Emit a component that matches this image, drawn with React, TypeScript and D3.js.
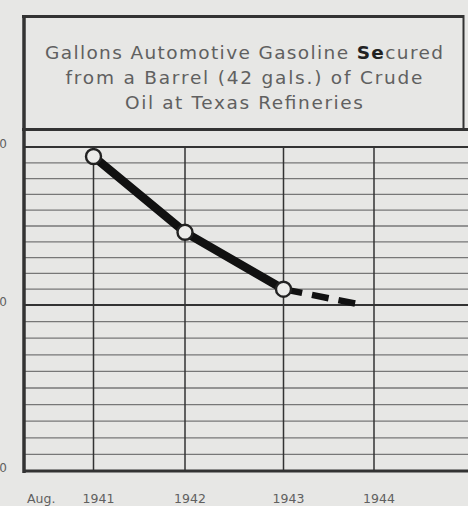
import React from "react";
import * as d3 from "d3";

const titleLines = [
  ["Gallons Automotive Gasoline ", "Se", "cured"],
  ["from a Barrel (42 gals.) of Crude"],
  ["Oil at Texas Refineries"],
];
const years = [1941, 1942, 1943];
const gallons = [19.4, 14.6, 11.0];
const projYears = [1943, 1943.83];
const projGallons = [11.0, 10.05];
const xTickYears = [1941, 1942, 1943, 1944];
const xTickLabels = ["1941", "1942", "1943", "1944"];
const yMajorTicks = [0, 10, 20];
const yMajorLabels = ["0", "10", "20"];
const yMinorTicks = d3.range(0, 21);

const W = 468;
const H = 506;

export default function App() {
  const x = d3.scaleLinear().domain([1941, 1942, 1943, 1944]).range([93.5, 185, 283.5, 374]);
  const y = d3.scaleLinear().domain([0, 10, 20]).range([471, 305, 147]);

  const solid = d3.line<number>().x((_, i) => x(years[i])).y((d) => y(d))(gallons) || "";
  const dashed = d3.line<number>().x((_, i) => x(projYears[i])).y((d) => y(d))(projGallons) || "";

  const ink = "#333";
  const grid = "#777";
  const textCol = "#606060";
  const titleWidths = [398, 357, 238];
  const titleY = [59, 84, 109];

  return (
    <svg width={W} height={H} style={{ position: "absolute", left: 0, top: 0, background: "#e7e7e5" }}>
      <rect x={0} y={0} width={W} height={H} fill="#e7e7e5" />
      {yMinorTicks.filter((t) => !yMajorTicks.includes(t)).map((t) => (
        <line key={"mn" + t} x1={25} x2={W} y1={y(t)} y2={y(t)} stroke={grid} strokeWidth={1.3} />
      ))}
      {yMajorTicks.map((t) => (
        <line key={"mj" + t} x1={25} x2={W} y1={y(t)} y2={y(t)} stroke={ink} strokeWidth={t === 0 ? 3 : 2} />
      ))}
      {xTickYears.map((t) => (
        <line key={"v" + t} x1={x(t)} x2={x(t)} y1={y(20)} y2={y(0)} stroke={ink} strokeWidth={1.5} />
      ))}
      <line x1={22} x2={463} y1={16.5} y2={16.5} stroke={ink} strokeWidth={3} />
      <line x1={22} x2={W} y1={129.5} y2={129.5} stroke={ink} strokeWidth={3} />
      <line x1={24} x2={24} y1={15} y2={473} stroke={ink} strokeWidth={3.5} />
      <line x1={463.5} x2={463.5} y1={15} y2={130} stroke={ink} strokeWidth={2} />
      {titleLines.map((parts, i) => (
        <text
          key={"t" + i}
          x={244}
          y={titleY[i]}
          textAnchor="middle"
          fontFamily="DejaVu Sans, sans-serif"
          fontSize={18.5}
          fill={textCol}
          textLength={titleWidths[i]}
          lengthAdjust="spacing"
        >
          {parts.map((p, j) => (
            <tspan key={j} fontWeight={p === "Se" ? "bold" : "normal"} fill={p === "Se" ? "#222" : textCol}>
              {p}
            </tspan>
          ))}
        </text>
      ))}
      {yMajorTicks.map((t, i) => (
        <text key={"yl" + t} x={7} y={y(t) - 3} textAnchor="end" dominantBaseline="middle" fontFamily="DejaVu Sans, sans-serif" fontSize={12} fill={textCol}>
          {yMajorLabels[i]}
        </text>
      ))}
      <text x={27} y={503} fontFamily="DejaVu Sans, sans-serif" fontSize={12.5} fill={textCol}>Aug.</text>
      {xTickYears.map((t, i) => (
        <text key={"xl" + t} x={x(t) + 5} y={503} textAnchor="middle" fontFamily="DejaVu Sans, sans-serif" fontSize={12.5} fill={textCol}>
          {xTickLabels[i]}
        </text>
      ))}
      <path d={dashed} fill="none" stroke="#111" strokeWidth={6.5} strokeDasharray="17 10" strokeDashoffset={-2} />
      <path d={solid} fill="none" stroke="#111" strokeWidth={8.5} />
      {years.map((yr, i) => (
        <circle key={"c" + yr} cx={x(yr)} cy={y(gallons[i])} r={7.5} fill="#ececea" stroke="#222" strokeWidth={2.4} />
      ))}
    </svg>
  );
}
